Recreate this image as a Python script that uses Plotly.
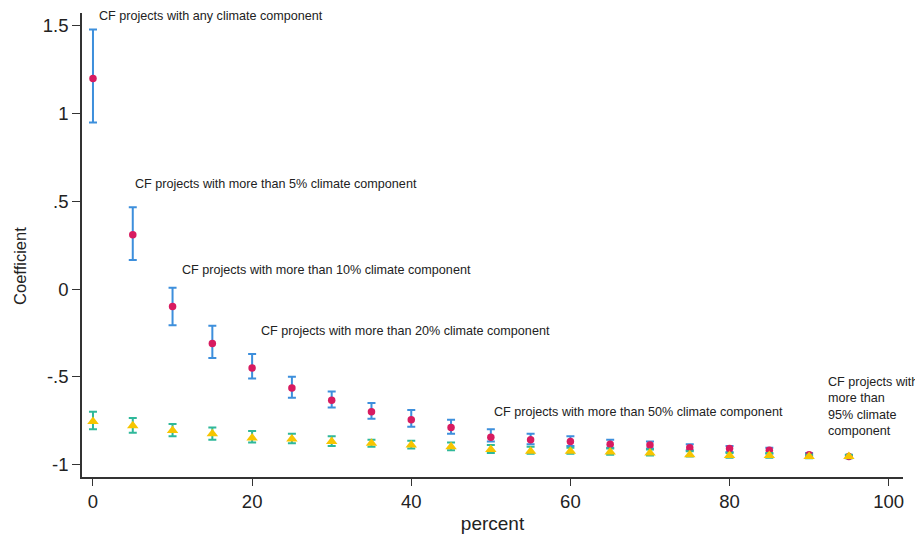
import plotly.graph_objects as go

# ---- data ----
percent = [0, 5, 10, 15, 20, 25, 30, 35, 40, 45, 50, 55, 60, 65, 70, 75, 80, 85, 90, 95]

coef_a = [1.20, 0.31, -0.10, -0.31, -0.45, -0.565, -0.635, -0.70, -0.745, -0.79,
          -0.845, -0.86, -0.87, -0.885, -0.89, -0.905, -0.91, -0.92, -0.945, -0.955]
lo_a = [0.95, 0.165, -0.206, -0.394, -0.51, -0.62, -0.676, -0.74, -0.785, -0.825,
        -0.87, -0.885, -0.895, -0.905, -0.91, -0.92, -0.93, -0.94, -0.955, -0.962]
hi_a = [1.48, 0.466, 0.007, -0.21, -0.371, -0.50, -0.585, -0.65, -0.69, -0.745,
        -0.80, -0.825, -0.84, -0.86, -0.87, -0.885, -0.895, -0.905, -0.935, -0.948]

coef_b = [-0.756, -0.78, -0.807, -0.825, -0.85, -0.855, -0.87, -0.88, -0.89, -0.90,
          -0.915, -0.925, -0.925, -0.93, -0.935, -0.945, -0.95, -0.95, -0.955, -0.955]
lo_b = [-0.80, -0.82, -0.84, -0.86, -0.875, -0.88, -0.895, -0.90, -0.91, -0.92,
        -0.935, -0.94, -0.94, -0.945, -0.95, -0.955, -0.962, -0.962, -0.965, -0.965]
hi_b = [-0.70, -0.735, -0.77, -0.79, -0.81, -0.825, -0.84, -0.86, -0.865, -0.875,
        -0.89, -0.90, -0.905, -0.91, -0.915, -0.925, -0.935, -0.935, -0.945, -0.945]

labels = [
    "CF projects with any climate component",
    "CF projects with more than 5% climate component",
    "CF projects with more than 10% climate component",
    "CF projects with more than 20% climate component",
    "CF projects with more than 50% climate component",
    "CF projects with<br>more than<br>95% climate<br>component",
]
label_x = [0.5, 5.0, 10.9, 20.9, 50.1, 92.1]
label_y = [1.555, 0.60, 0.108, -0.238, -0.70, -0.67]

y_ticks = [-1, -0.5, 0, 0.5, 1, 1.5]
y_ticktext = ["-1", "-.5", "0", ".5", "1", "1.5"]
x_ticks = [0, 20, 40, 60, 80, 100]

FONT = "Liberation Sans, Arial, sans-serif"
TXT = "#222222"

fig = go.Figure()

fig.add_trace(go.Scatter(
    x=percent, y=coef_a, mode="markers",
    marker=dict(color="#d81b60", size=7.5, symbol="circle"),
    error_y=dict(type="data", symmetric=False,
                 array=[h - c for h, c in zip(hi_a, coef_a)],
                 arrayminus=[c - l for c, l in zip(coef_a, lo_a)],
                 color="#3d8fdc", thickness=2, width=4),
    showlegend=False,
))

fig.add_trace(go.Scatter(
    x=percent, y=coef_b, mode="markers",
    marker=dict(color="#f7c500", size=10, symbol="triangle-up"),
    error_y=dict(type="data", symmetric=False,
                 array=[h - c for h, c in zip(hi_b, coef_b)],
                 arrayminus=[c - l for c, l in zip(coef_b, lo_b)],
                 color="#2fb89a", thickness=2, width=4),
    showlegend=False,
))

annotations = []
for t, xx, yy in zip(labels, label_x, label_y):
    annotations.append(dict(
        x=xx, y=yy, xref="x", yref="y", text=t, showarrow=False,
        xanchor="left", yanchor="middle", align="left",
        font=dict(family=FONT, size=12.6, color=TXT),
    ))
annotations.append(dict(
    x=-0.0755, y=0.455, xref="paper", yref="paper", text="Coefficient",
    showarrow=False, textangle=-90, xanchor="center", yanchor="middle",
    font=dict(family=FONT, size=16.5, color=TXT),
))

# the page body has an 8px margin, so the figure is offset by 8px
fig.update_layout(
    width=915, height=530,
    margin=dict(l=74, r=20, t=5, b=61),
    paper_bgcolor="white", plot_bgcolor="white",
    font=dict(family=FONT, color=TXT),
    annotations=annotations,
    xaxis=dict(
        range=[-1.38, 101.8], tickvals=x_ticks,
        showgrid=False, zeroline=False,
        showline=True, linecolor="#333333", linewidth=1.5,
        ticks="outside", ticklen=7, tickwidth=1.2, tickcolor="#333333",
        tickfont=dict(family=FONT, size=18.5, color=TXT),
        title=dict(text="percent", font=dict(family=FONT, size=19, color=TXT), standoff=6),
    ),
    yaxis=dict(
        range=[-1.072, 1.574], tickvals=y_ticks, ticktext=y_ticktext,
        showgrid=False, zeroline=False,
        showline=True, linecolor="#333333", linewidth=1.5,
        ticks="outside", ticklen=8, tickwidth=1.2, tickcolor="#333333",
        tickfont=dict(family=FONT, size=18.5, color=TXT),
    ),
)

fig.write_html("out.html")
